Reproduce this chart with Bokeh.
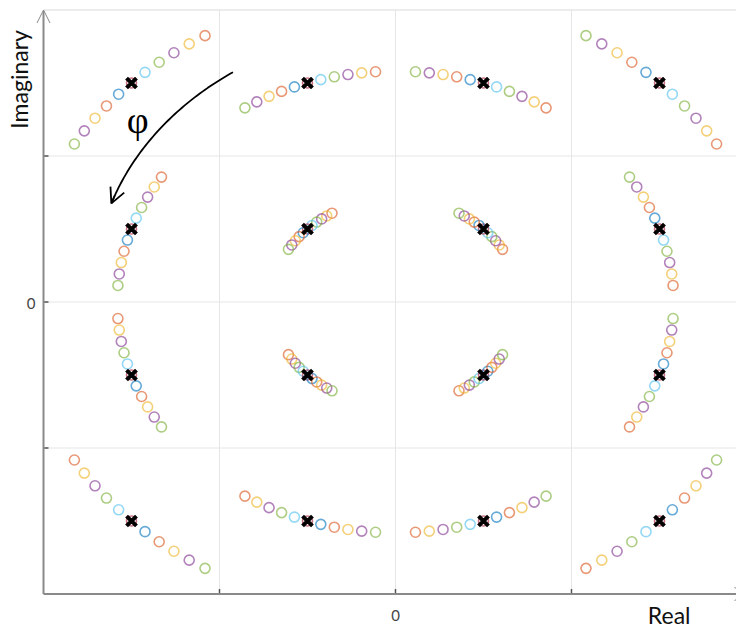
import numpy as np
from bokeh.plotting import figure
from bokeh.models import Range1d, Arrow, OpenHead, Label
from bokeh.embed import file_html
from bokeh.resources import INLINE

# ---------------- data ----------------
levels = [-3, -1, 1, 3]                      # 16-QAM I / Q levels
phase_rad = [-0.25, -0.20, -0.15, -0.10, -0.05, 0.0, 0.05, 0.10, 0.15, 0.20, 0.25]
phase_colors = ["#D95319", "#EDB120", "#7E2F8E", "#77AC30", "#4DBEEE", "#A2142F",
                "#0072BD", "#D95319", "#EDB120", "#7E2F8E", "#77AC30"]
grid_ticks = [-2, 0, 2]
x_tick_labels = {0: "0"}
y_tick_labels = {0: "0"}
x_axis_label = "Real"
y_axis_label = "Imaginary"
phase_label = "φ"
axis_lim = 4

# ---------------- geometry helpers ----------------
PX_X = 88.0   # pixels per unit (x)
PX_Y = 73.0   # pixels per unit (y)
W, H = 736, 628
x0 = -395.0 / PX_X
y1 = 301.5 / PX_Y
xr = Range1d(x0, x0 + W / PX_X)
yr = Range1d(y1 - H / PX_Y, y1)

p = figure(width=W, height=H, x_range=xr, y_range=yr, output_backend="svg",
           toolbar_location=None, x_axis_location=None, y_axis_location=None,
           min_border=0, min_border_left=0, min_border_right=0,
           min_border_top=0, min_border_bottom=0)
p.outline_line_color = None
p.xgrid.visible = False
p.ygrid.visible = False
p.background_fill_color = "white"
p.border_fill_color = "white"

grid_col = "#e6e6e6"
# grid lines
p.segment(x0=grid_ticks, y0=[-axis_lim] * 3, x1=grid_ticks, y1=[axis_lim] * 3,
          line_color=grid_col, line_width=1)
p.segment(x0=[-axis_lim] * 3, y0=grid_ticks, x1=[axis_lim] * 3, y1=grid_ticks,
          line_color=grid_col, line_width=1)
# box (top / right)
p.segment(x0=[-axis_lim, axis_lim], y0=[axis_lim, -axis_lim],
          x1=[axis_lim, axis_lim], y1=[axis_lim, axis_lim],
          line_color=grid_col, line_width=1.5)

# ---------------- constellation ----------------
I, Q = np.meshgrid(levels, levels)
ideal = (I + 1j * Q).ravel()
for ph, col in zip(phase_rad, phase_colors):
    rot = ideal * np.exp(1j * ph)
    p.scatter(rot.real, rot.imag, marker="circle", size=10, fill_color=None,
              line_color=col, line_alpha=0.6, line_width=1.6)

p.scatter(ideal.real, ideal.imag, marker="x", size=14, line_color="black",
          line_width=4)

# ---------------- axes ----------------
ax_col = "#8a8a8a"
p.add_layout(Arrow(x_start=-axis_lim, y_start=-axis_lim, x_end=-axis_lim, y_end=axis_lim,
                   line_color=ax_col, line_width=2,
                   end=OpenHead(size=13, line_color=ax_col, line_width=1)))
p.add_layout(Arrow(x_start=-axis_lim, y_start=-axis_lim, x_end=axis_lim, y_end=-axis_lim,
                   line_color=ax_col, line_width=2,
                   end=OpenHead(size=13, line_color=ax_col, line_width=1)))
tick_col = "#555555"
tl_x = 5 / PX_X
tl_y = 5 / PX_Y
p.segment(x0=grid_ticks, y0=[-axis_lim] * 3, x1=grid_ticks, y1=[-axis_lim + tl_y] * 3,
          line_color=tick_col, line_width=1.5)
p.segment(x0=[-axis_lim] * 3, y0=grid_ticks, x1=[-axis_lim + tl_x] * 3, y1=grid_ticks,
          line_color=tick_col, line_width=1.5)

lab_font = "Lato"
for xv, txt in x_tick_labels.items():
    p.add_layout(Label(x=xv, y=-axis_lim - 21.5 / PX_Y, text=txt, text_font=lab_font,
                       text_font_size="15px", text_color="#444444",
                       text_align="center", text_baseline="alphabetic"))
for yv, txt in y_tick_labels.items():
    p.add_layout(Label(x=-axis_lim - 12.5 / PX_X, y=yv - 1.5 / PX_Y, text=txt,
                       text_font=lab_font, text_font_size="15px", text_color="#444444",
                       text_align="center", text_baseline="alphabetic"))

p.add_layout(Label(x=3.11, y=-axis_lim - 21.0 / PX_Y, text=x_axis_label, text_font=lab_font,
                   text_font_size="23px", text_color="#111111",
                   text_align="center", text_baseline="alphabetic"))
p.add_layout(Label(x=-axis_lim - 24.5 / PX_X, y=3.05, text=y_axis_label, text_font=lab_font,
                   text_font_size="23px", text_color="#111111", angle=np.pi / 2,
                   text_align="center", text_baseline="alphabetic"))

# ---------------- phase rotation arrow ----------------
th = np.linspace(np.deg2rad(120.4), np.deg2rad(157.3), 60)
rr = np.linspace(3.65, 3.50, 60)
ax_ = rr * np.cos(th)
ay_ = rr * np.sin(th)
p.line(ax_, ay_, line_color="black", line_width=1.8)
p.add_layout(Arrow(x_start=ax_[-4], y_start=ay_[-4], x_end=ax_[-1], y_end=ay_[-1],
                   line_color="black", line_width=1.8,
                   end=OpenHead(size=15, line_color="black", line_width=1.8)))
p.add_layout(Label(x=-2.93, y=2.50, text=phase_label, text_font="Liberation Serif",
                   text_font_size="38px", text_color="black",
                   text_align="center", text_baseline="middle"))

open("out.html", "w").write(file_html(p, INLINE))
